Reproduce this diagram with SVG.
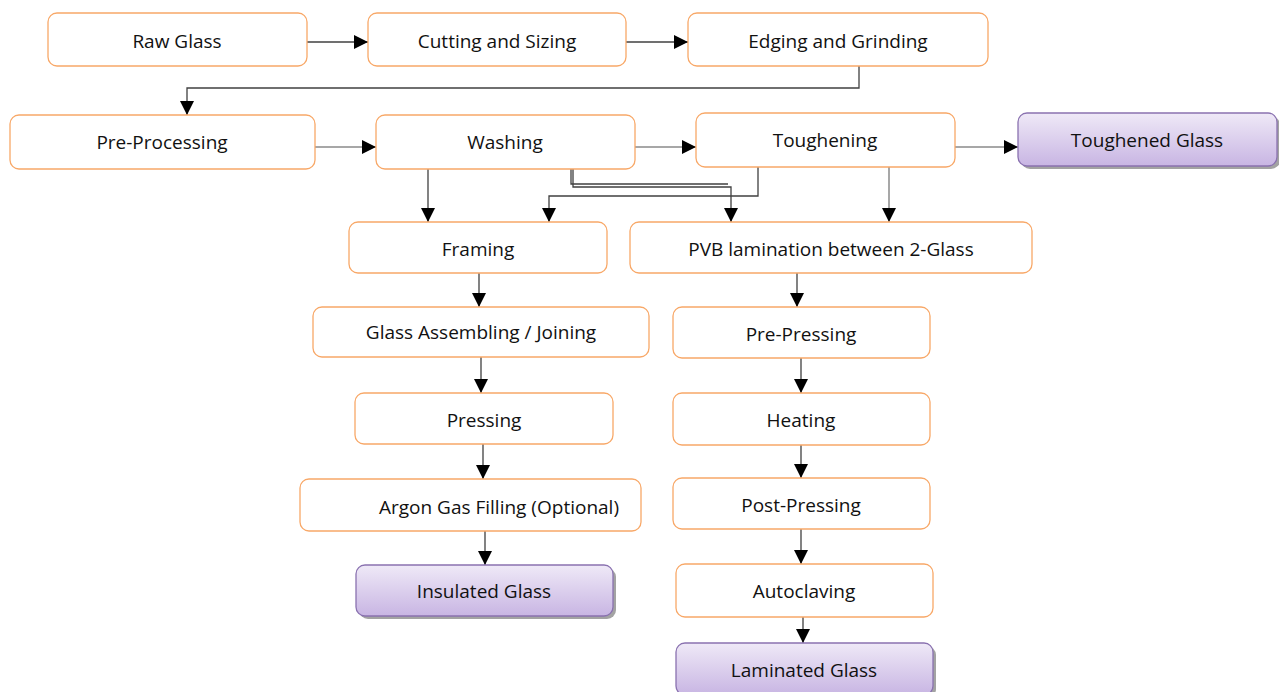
<svg xmlns="http://www.w3.org/2000/svg" width="1279" height="692" viewBox="0 0 1279 692">
<defs>
<linearGradient id="pg" x1="0" y1="0" x2="0" y2="1">
<stop offset="0" stop-color="#efe9f7"/>
<stop offset="1" stop-color="#c8b5e3"/>
</linearGradient>
<marker id="ah" markerWidth="16" markerHeight="16" refX="14" refY="7" orient="auto" markerUnits="userSpaceOnUse">
<path d="M0,0 L14,7 L0,14 Z" fill="#000"/>
</marker>
</defs>
<style>
.n{fill:#fff;stroke:#f8a868;stroke-width:1.3}
.p{fill:url(#pg);stroke:#8a72b0;stroke-width:1.3}
.s{fill:#8c8c8c;opacity:0.8}
.t{font-family:"Open Sans",Lato,sans-serif;font-size:19px;fill:#111;text-anchor:middle;dominant-baseline:central}
.c{fill:none;stroke:#404040;stroke-width:1.3}
.g{fill:none;stroke:#8a8a8a;stroke-width:1.5}
</style>
<rect width="1279" height="692" fill="#fff"/>
<g id="connectors">
<path class="c" d="M307,42 H368" marker-end="url(#ah)"/>
<path class="c" d="M626,42 H688" marker-end="url(#ah)"/>
<path class="c" d="M859,66 V88 H187 V115" marker-end="url(#ah)"/>
<path class="g" d="M315,147 H376" marker-end="url(#ah)"/>
<path class="g" d="M635,147 H696" marker-end="url(#ah)"/>
<path class="g" d="M955,147 H1018" marker-end="url(#ah)"/>
<path class="c" d="M428,169 V222" marker-end="url(#ah)"/>
<path class="c" d="M571,169 V184 H728"/>
<path class="c" d="M573,169 V187 H731 V222" marker-end="url(#ah)"/>
<path class="c" d="M758,166 V196 H549 V222" marker-end="url(#ah)"/>
<path class="g" d="M889,166 V222" marker-end="url(#ah)"/>
<path class="c" d="M479,273 V307" marker-end="url(#ah)"/>
<path class="c" d="M481,357 V393" marker-end="url(#ah)"/>
<path class="c" d="M483,444 V479" marker-end="url(#ah)"/>
<path class="c" d="M485,531 V565" marker-end="url(#ah)"/>
<path class="c" d="M797,273 V307" marker-end="url(#ah)"/>
<path class="c" d="M801,358 V393" marker-end="url(#ah)"/>
<path class="c" d="M801,445 V478" marker-end="url(#ah)"/>
<path class="c" d="M801,529 V564" marker-end="url(#ah)"/>
<path class="c" d="M803,617 V643" marker-end="url(#ah)"/>
</g>
<g id="raw-glass"><rect class="n" x="48" y="13" width="259" height="53" rx="9"/><text class="t" x="177" y="41">Raw Glass</text></g>
<g id="cutting"><rect class="n" x="368" y="13" width="258" height="53" rx="9"/><text class="t" x="497" y="41">Cutting and Sizing</text></g>
<g id="edging"><rect class="n" x="688" y="13" width="300" height="53" rx="9"/><text class="t" x="838" y="41">Edging and Grinding</text></g>
<g id="pre-processing"><rect class="n" x="10" y="115" width="305" height="54" rx="9"/><text class="t" x="162" y="142">Pre-Processing</text></g>
<g id="washing"><rect class="n" x="376" y="115" width="259" height="54" rx="9"/><text class="t" x="505" y="142">Washing</text></g>
<g id="toughening"><rect class="n" x="696" y="113" width="259" height="54" rx="9"/><text class="t" x="825" y="140">Toughening</text></g>
<g id="toughened-glass"><rect class="s" x="1021" y="116" width="259" height="53" rx="9"/><rect class="p" x="1018" y="113" width="259" height="53" rx="9"/><text class="t" x="1147" y="140">Toughened Glass</text></g>
<g id="framing"><rect class="n" x="349" y="222" width="258" height="51" rx="9"/><text class="t" x="478" y="249">Framing</text></g>
<g id="pvb"><rect class="n" x="630" y="222" width="402" height="51" rx="9"/><text class="t" x="831" y="249">PVB lamination between 2-Glass</text></g>
<g id="assembling"><rect class="n" x="313" y="307" width="336" height="50" rx="9"/><text class="t" x="481" y="332">Glass Assembling / Joining</text></g>
<g id="pressing"><rect class="n" x="355" y="393" width="258" height="51" rx="9"/><text class="t" x="484" y="420">Pressing</text></g>
<g id="argon"><rect class="n" x="300" y="479" width="341" height="52" rx="9"/><text class="t" x="499" y="507">Argon Gas Filling (Optional)</text></g>
<g id="insulated-glass"><rect class="s" x="359" y="568" width="257" height="51" rx="9"/><rect class="p" x="356" y="565" width="257" height="51" rx="9"/><text class="t" x="484" y="591">Insulated Glass</text></g>
<g id="pre-pressing"><rect class="n" x="673" y="307" width="257" height="51" rx="9"/><text class="t" x="801" y="334">Pre-Pressing</text></g>
<g id="heating"><rect class="n" x="673" y="393" width="257" height="52" rx="9"/><text class="t" x="801" y="420">Heating</text></g>
<g id="post-pressing"><rect class="n" x="673" y="478" width="257" height="51" rx="9"/><text class="t" x="801" y="505">Post-Pressing</text></g>
<g id="autoclaving"><rect class="n" x="676" y="564" width="257" height="53" rx="9"/><text class="t" x="804" y="591">Autoclaving</text></g>
<g id="laminated-glass"><rect class="s" x="679" y="646" width="257" height="52" rx="9"/><rect class="p" x="676" y="643" width="257" height="52" rx="9"/><text class="t" x="804" y="670">Laminated Glass</text></g>
</svg>
